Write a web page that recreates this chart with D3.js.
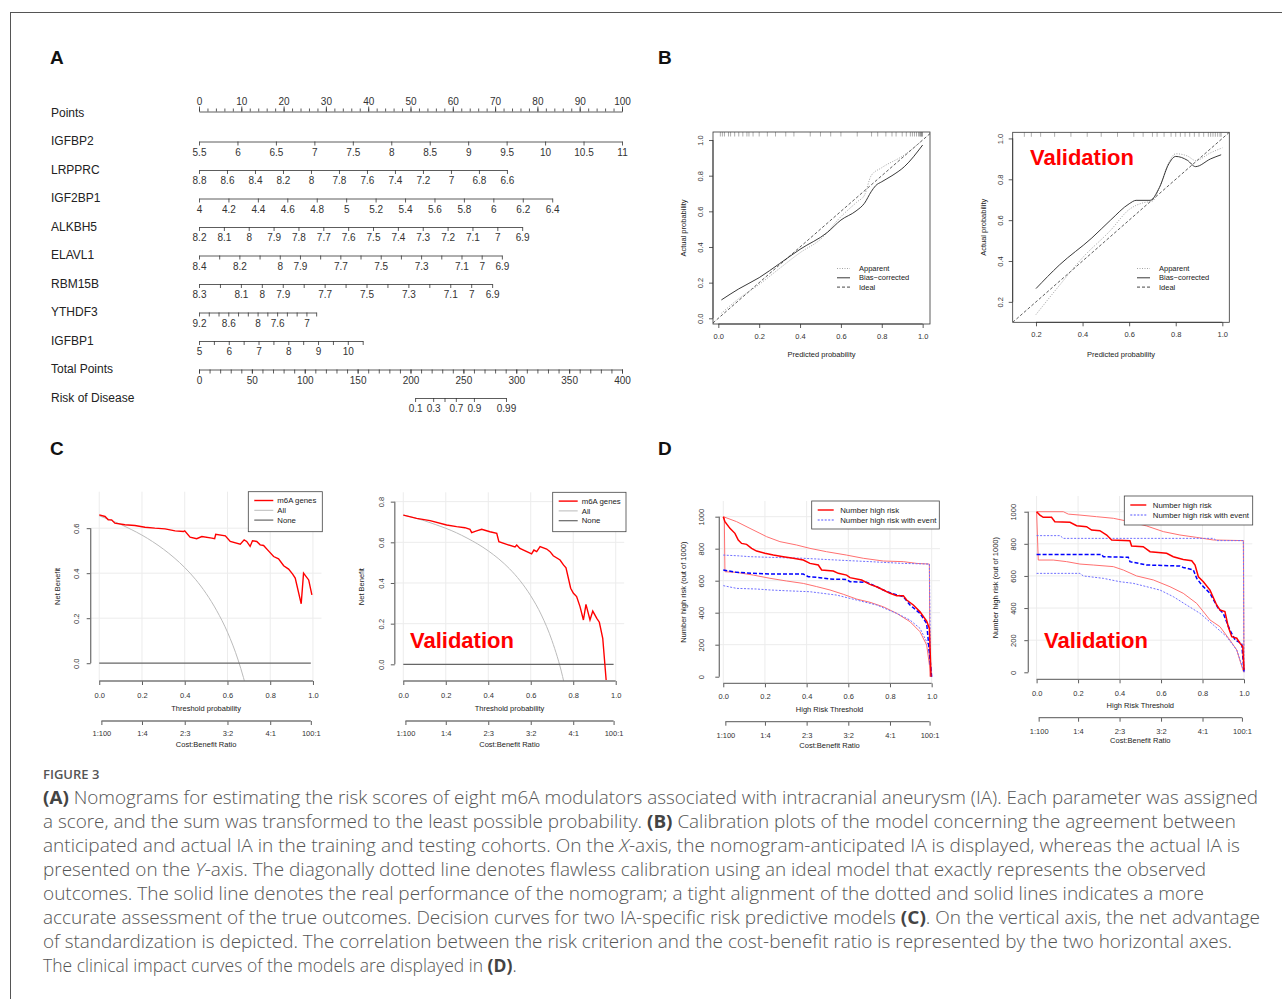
<!DOCTYPE html>
<html>
<head>
<meta charset="utf-8">
<script src="https://cdn.jsdelivr.net/npm/d3@7"></script>
<style>
body{margin:0;background:#fff}
svg{display:block}
</style>
</head>
<body>
<script>
"use strict";
// ---------- A: nomogram ----------
const nomoNames = ["IGFBP2", "LRPPRC", "IGF2BP1", "ALKBH5", "ELAVL1", "RBM15B", "YTHDF3", "IGFBP1"];
const nomoStart = [5.5, 8.8, 4, 8.2, 8.4, 8.3, 9.2, 5];
const nomoEnd = [11, 6.6, 6.4, 6.9, 6.9, 6.9, 6.8, 10.5];
const nomoEndPts = [100, 72.8, 83.5, 76.4, 71.6, 69.3, 27.7, 38.7];
const nomoTicks = [
	[5.5, 6, 6.5, 7, 7.5, 8, 8.5, 9, 9.5, 10, 10.5, 11],
	[8.8, 8.6, 8.4, 8.2, 8, 7.8, 7.6, 7.4, 7.2, 7, 6.8, 6.6],
	[4, 4.2, 4.4, 4.6, 4.8, 5, 5.2, 5.4, 5.6, 5.8, 6, 6.2, 6.4],
	[8.2, 8.1, 8, 7.9, 7.8, 7.7, 7.6, 7.5, 7.4, 7.3, 7.2, 7.1, 7, 6.9],
	[8.4, 8.3, 8.2, 8.1, 8, 7.9, 7.8, 7.7, 7.6, 7.5, 7.4, 7.3, 7.2, 7.1, 7, 6.9],
	[8.3, 8.2, 8.1, 8, 7.9, 7.8, 7.7, 7.6, 7.5, 7.4, 7.3, 7.2, 7.1, 7, 6.9],
	[9.2, 9, 8.8, 8.6, 8.4, 8.2, 8, 7.8, 7.6, 7.4, 7.2, 7, 6.8],
	[5, 5.5, 6, 6.5, 7, 7.5, 8, 8.5, 9, 9.5, 10, 10.5]
];
const nomoLabels = [
	[5.5, 6, 6.5, 7, 7.5, 8, 8.5, 9, 9.5, 10, 10.5, 11],
	[8.8, 8.6, 8.4, 8.2, 8, 7.8, 7.6, 7.4, 7.2, 7, 6.8, 6.6],
	[4, 4.2, 4.4, 4.6, 4.8, 5, 5.2, 5.4, 5.6, 5.8, 6, 6.2, 6.4],
	[8.2, 8.1, 8, 7.9, 7.8, 7.7, 7.6, 7.5, 7.4, 7.3, 7.2, 7.1, 7, 6.9],
	[8.4, 8.2, 8, 7.9, 7.7, 7.5, 7.3, 7.1, 7, 6.9],
	[8.3, 8.1, 8, 7.9, 7.7, 7.5, 7.3, 7.1, 7, 6.9],
	[9.2, 8.6, 8, 7.6, 7],
	[5, 6, 7, 8, 9, 10]
];
const pointsTicks = [0, 10, 20, 30, 40, 50, 60, 70, 80, 90, 100];
const pointsMinor = d3.range(0, 101, 2);
const totalTicks = [0, 50, 100, 150, 200, 250, 300, 350, 400];
const totalMinor = d3.range(0, 401, 10);
const riskTicks = [0.1, 0.3, 0.5, 0.7, 0.9, 0.99];
const riskLabels = [0.1, 0.3, 0.7, 0.9, 0.99];
const riskA = -18.34, riskB = 0.079; // logit(p) = riskA + riskB * totalPoints

// ---------- B: calibration ----------
const calTrainBcX = [0.015, 0.1, 0.2, 0.3, 0.4, 0.534, 0.6, 0.674, 0.715, 0.748, 0.77, 0.8, 0.85, 0.91, 1.0];
const calTrainBcY = [0.103, 0.165, 0.228, 0.307, 0.387, 0.482, 0.551, 0.602, 0.645, 0.71, 0.744, 0.766, 0.8, 0.85, 0.972];
const calTrainApX = [0.015, 0.1, 0.2, 0.3, 0.4, 0.5, 0.6, 0.68, 0.715, 0.748, 0.8, 0.91, 1.0];
const calTrainApY = [0.028, 0.11, 0.19, 0.28, 0.368, 0.443, 0.57, 0.654, 0.69, 0.8, 0.845, 0.916, 1.0];
const calTrainRug = [0.01, 0.02, 0.03, 0.05, 0.06, 0.08, 0.1, 0.12, 0.14, 0.15, 0.17, 0.2, 0.24, 0.28, 0.33, 0.37, 0.45, 0.5, 0.55, 0.6, 0.68, 0.75, 0.78, 0.82, 0.85, 0.87, 0.9, 0.92, 0.94, 0.95, 0.96, 0.97, 0.98, 0.985, 0.99, 0.992, 0.995, 0.997, 0.999];
const calValidBcX = [0.2, 0.3, 0.44, 0.52, 0.6, 0.63, 0.69, 0.73, 0.77, 0.8, 0.85, 0.885, 0.95, 0.995];
const calValidBcY = [0.265, 0.38, 0.513, 0.6, 0.68, 0.697, 0.697, 0.76, 0.875, 0.912, 0.893, 0.862, 0.9, 0.92];
const calValidApX = [0.2, 0.3, 0.4, 0.52, 0.6, 0.66, 0.7, 0.73, 0.77, 0.8, 0.85, 0.885, 0.95, 1.0];
const calValidApY = [0.138, 0.28, 0.416, 0.55, 0.652, 0.685, 0.693, 0.758, 0.881, 0.925, 0.914, 0.892, 0.93, 0.954];
const calValidRug = [0.15, 0.18, 0.22, 0.28, 0.35, 0.42, 0.48, 0.55, 0.62, 0.66, 0.7, 0.72, 0.75, 0.78, 0.8, 0.82, 0.84, 0.86, 0.88, 0.9, 0.92, 0.94, 0.95, 0.96, 0.97, 0.98, 0.99, 0.995];
const calTicks = [0, 0.2, 0.4, 0.6, 0.8, 1.0];
const calValidTicks = [0.2, 0.4, 0.6, 0.8, 1.0];
const calLegend = ["Apparent", "Bias\u2212corrected", "Ideal"];

// ---------- C: decision curves ----------
const dcaTrainX = [0, 0.027, 0.042, 0.058, 0.073, 0.12, 0.167, 0.214, 0.26, 0.308, 0.355, 0.394, 0.4, 0.425, 0.456, 0.48, 0.527, 0.54, 0.545, 0.59, 0.613, 0.66, 0.678, 0.69, 0.706, 0.717, 0.737, 0.753, 0.769, 0.792, 0.816, 0.839, 0.863, 0.886, 0.905, 0.917, 0.945, 0.956, 0.98, 0.995];
const dcaTrainY = [0.659, 0.652, 0.637, 0.637, 0.622, 0.615, 0.612, 0.604, 0.6, 0.597, 0.588, 0.585, 0.588, 0.56, 0.553, 0.563, 0.556, 0.553, 0.573, 0.566, 0.541, 0.529, 0.548, 0.541, 0.519, 0.544, 0.541, 0.526, 0.523, 0.499, 0.474, 0.464, 0.433, 0.418, 0.396, 0.378, 0.264, 0.4, 0.37, 0.304];
const dcaTrainAllX = [0, 0.05, 0.1, 0.15, 0.2, 0.25, 0.3, 0.35, 0.4, 0.45, 0.5, 0.55, 0.6, 0.65, 0.7];
const dcaTrainAllY = [0.655, 0.637, 0.617, 0.594, 0.569, 0.54, 0.507, 0.469, 0.425, 0.373, 0.31, 0.233, 0.138, 0.014, -0.15];
const dcaValidX = [0, 0.063, 0.126, 0.204, 0.251, 0.29, 0.314, 0.322, 0.345, 0.369, 0.408, 0.44, 0.45, 0.487, 0.526, 0.534, 0.549, 0.604, 0.615, 0.628, 0.644, 0.675, 0.691, 0.706, 0.738, 0.754, 0.766, 0.788, 0.801, 0.816, 0.832, 0.848, 0.86, 0.879, 0.892, 0.911, 0.923, 0.939, 0.955];
const dcaValidY = [0.734, 0.718, 0.707, 0.685, 0.677, 0.672, 0.664, 0.648, 0.656, 0.664, 0.652, 0.644, 0.603, 0.59, 0.577, 0.587, 0.57, 0.543, 0.562, 0.554, 0.579, 0.567, 0.554, 0.534, 0.513, 0.489, 0.475, 0.374, 0.349, 0.333, 0.284, 0.218, 0.295, 0.218, 0.262, 0.226, 0.207, 0.128, -0.077];
const dcaValidAllX = [0, 0.05, 0.1, 0.15, 0.2, 0.25, 0.3, 0.35, 0.4, 0.45, 0.5, 0.55, 0.6, 0.65, 0.7, 0.75, 0.8];
const dcaValidAllY = [0.735, 0.721, 0.706, 0.688, 0.669, 0.647, 0.621, 0.592, 0.558, 0.518, 0.47, 0.411, 0.337, 0.243, 0.117, -0.06, -0.325];
const dcaLegend = ["m6A genes", "All", "None"];
const cbThresholds = [0.01, 0.2, 0.4, 0.6, 0.8, 0.99];
const cbLabels = ["1:100", "1:4", "2:3", "3:2", "4:1", "100:1"];
const thrTicks = [0, 0.2, 0.4, 0.6, 0.8, 1.0];

// ---------- D: clinical impact ----------
const ciTrainRedX = [0, 0.008, 0.032, 0.056, 0.072, 0.088, 0.112, 0.136, 0.16, 0.2, 0.24, 0.288, 0.336, 0.384, 0.416, 0.456, 0.472, 0.528, 0.552, 0.592, 0.608, 0.664, 0.704, 0.736, 0.768, 0.8, 0.832, 0.864, 0.88, 0.912, 0.944, 0.976, 0.989, 0.997];
const ciTrainRedY = [1000, 969, 927, 896, 854, 833, 827, 802, 785, 771, 760, 750, 740, 729, 708, 698, 667, 660, 646, 635, 619, 604, 577, 562, 542, 521, 506, 506, 479, 448, 406, 348, 302, 0];
const ciTrainRedHiX = [0, 0.064, 0.128, 0.176, 0.208, 0.272, 0.352, 0.416, 0.496, 0.592, 0.672, 0.768, 0.864, 0.928, 0.989, 0.992];
const ciTrainRedHiY = [1000, 969, 927, 896, 875, 844, 823, 802, 781, 760, 740, 723, 719, 708, 704, 0];
const ciTrainRedLoX = [0.005, 0.008, 0.064, 0.144, 0.224, 0.304, 0.384, 0.448, 0.512, 0.576, 0.64, 0.704, 0.768, 0.832, 0.896, 0.944, 0.976, 0.997];
const ciTrainRedLoY = [1000, 656, 652, 635, 615, 598, 583, 563, 542, 515, 485, 465, 437, 396, 344, 281, 198, 0];
const ciTrainBlueX = [0, 0.064, 0.144, 0.224, 0.384, 0.408, 0.464, 0.512, 0.592, 0.608, 0.688, 0.736, 0.768, 0.808, 0.864, 0.896, 0.944, 0.976, 1.0];
const ciTrainBlueY = [667, 652, 646, 642, 642, 625, 619, 610, 608, 594, 590, 562, 542, 521, 500, 448, 396, 333, 0];
const ciTrainBlueHiX = [0, 0.064, 0.128, 0.224, 0.384, 0.544, 0.704, 0.864, 0.989, 0.995];
const ciTrainBlueHiY = [760, 756, 750, 746, 740, 729, 719, 708, 704, 0];
const ciTrainBlueLoX = [0, 0.064, 0.16, 0.224, 0.304, 0.416, 0.544, 0.64, 0.736, 0.832, 0.896, 0.944, 0.984, 1.0];
const ciTrainBlueLoY = [569, 552, 548, 542, 537, 531, 510, 479, 448, 396, 354, 302, 198, 0];
const ciValidRedX = [0, 0.016, 0.032, 0.072, 0.088, 0.161, 0.193, 0.241, 0.265, 0.305, 0.338, 0.362, 0.45, 0.458, 0.514, 0.547, 0.627, 0.659, 0.707, 0.748, 0.764, 0.78, 0.804, 0.836, 0.868, 0.884, 0.908, 0.924, 0.941, 0.965, 0.981, 0.994, 1.0];
const ciValidRedY = [1000, 979, 965, 965, 938, 934, 913, 907, 886, 882, 855, 824, 819, 786, 782, 751, 741, 720, 703, 695, 668, 595, 564, 512, 419, 388, 378, 284, 222, 212, 180, 160, 15];
const ciValidRedHiX = [0, 0.129, 0.153, 0.209, 0.289, 0.37, 0.45, 0.531, 0.611, 0.691, 0.772, 0.852, 0.997, 1.0];
const ciValidRedHiY = [1000, 1000, 985, 979, 969, 959, 938, 911, 876, 855, 840, 824, 820, 0];
const ciValidRedLoX = [0, 0.008, 0.08, 0.145, 0.209, 0.273, 0.37, 0.418, 0.482, 0.563, 0.643, 0.707, 0.772, 0.836, 0.884, 0.932, 0.965, 0.997];
const ciValidRedLoY = [1000, 699, 699, 689, 674, 668, 658, 637, 600, 575, 533, 492, 429, 326, 284, 201, 139, 4];
const ciValidBlueX = [0, 0.313, 0.322, 0.442, 0.45, 0.531, 0.691, 0.707, 0.756, 0.772, 0.796, 0.836, 0.876, 0.9, 0.932, 0.957, 0.989, 1.0];
const ciValidBlueY = [734, 734, 720, 716, 689, 668, 662, 653, 637, 585, 544, 492, 398, 367, 263, 201, 180, 4];
const ciValidBlueHiX = [0, 0.113, 0.129, 0.852, 0.868, 0.997, 1.0];
const ciValidBlueHiY = [851, 851, 834, 834, 820, 820, 0];
const ciValidBlueLoX = [0, 0.209, 0.225, 0.322, 0.402, 0.466, 0.531, 0.595, 0.659, 0.723, 0.788, 0.852, 0.916, 0.965, 0.997];
const ciValidBlueLoY = [616, 616, 600, 585, 564, 554, 533, 512, 471, 419, 367, 295, 222, 139, 15];
const ciTicks = [0, 200, 400, 600, 800, 1000];
const ciLegend = ["Number high risk", "Number high risk with event"];

// ---------- caption ----------
const captionLines = [
	[["(A)", "b"], [" Nomograms for estimating the risk scores of eight m6A modulators associated with intracranial aneurysm (IA). Each parameter was assigned"]],
	[["a score, and the sum was transformed to the least possible probability. "], ["(B)", "b"], [" Calibration plots of the model concerning the agreement between"]],
	[["anticipated and actual IA in the training and testing cohorts. On the "], ["X", "i"], ["-axis, the nomogram-anticipated IA is displayed, whereas the actual IA is"]],
	[["presented on the "], ["Y", "i"], ["-axis. The diagonally dotted line denotes flawless calibration using an ideal model that exactly represents the observed"]],
	[["outcomes. The solid line denotes the real performance of the nomogram; a tight alignment of the dotted and solid lines indicates a more"]],
	[["accurate assessment of the true outcomes. Decision curves for two IA-specific risk predictive models "], ["(C)", "b"], [". On the vertical axis, the net advantage"]],
	[["of standardization is depicted. The correlation between the risk criterion and the cost-benefit ratio is represented by the two horizontal axes."]],
	[["The clinical impact curves of the models are displayed in "], ["(D)", "b"], ["."]]
];
const captionWidths = [1215, 1193, 1197, 1163, 1161, 1217, 1189, null];

const FONT = '"Liberation Sans", Arial, Helvetica, sans-serif';
const svg = d3.select("body").append("svg").attr("width", 1282).attr("height", 999).attr("font-family", FONT);

// frame
svg.append("line").attr("x1", 10).attr("x2", 1282).attr("y1", 12.5).attr("y2", 12.5).attr("stroke", "#555");
svg.append("line").attr("x1", 10.5).attr("x2", 10.5).attr("y1", 12).attr("y2", 999).attr("stroke", "#555");

// panel letters
[["A", 50, 64], ["B", 658, 64], ["C", 50, 455], ["D", 658, 455]].forEach(([t, x, y]) => {
	svg.append("text").attr("x", x).attr("y", y).attr("font-size", 19).attr("font-weight", "bold").attr("fill", "#111").text(t);
});

function styleAxis(g, size, col) {
	g.attr("font-family", FONT).attr("font-size", size);
	g.selectAll("text").attr("fill", col || "#333");
	g.selectAll("line").attr("stroke", col || "#333").attr("stroke-width", 0.8);
	g.selectAll(".domain").attr("stroke", col || "#333").attr("stroke-width", 0.8);
}

// ---------- A ----------
const ptsX = d3.scaleLinear().domain([0, 100]).range([199, 622]);
const totX = d3.scaleLinear().domain([0, 400]).range([199, 622]);
const rowY = d3.scaleLinear().domain([0, 10]).range([112, 397]);
const rowNames = ["Points"].concat(nomoNames, ["Total Points", "Risk of Disease"]);
rowNames.forEach((n, i) => {
	svg.append("text").attr("x", 51).attr("y", rowY(i) + 4.5).attr("font-size", 12).attr("fill", "#222").text(n);
});
{
	const g1 = svg.append("g").attr("transform", `translate(0,${rowY(0) - 0.5})`)
		.call(d3.axisTop(ptsX).tickValues(pointsMinor).tickSize(3).tickSizeOuter(0).tickFormat(""));
	styleAxis(g1, 10);
	const g2 = svg.append("g").attr("transform", `translate(0,${rowY(0) - 0.5})`)
		.call(d3.axisTop(ptsX).tickValues(pointsTicks).tickSize(5).tickSizeOuter(0).tickPadding(2));
	g2.select(".domain").remove();
	styleAxis(g2, 10);
}
nomoNames.forEach((name, i) => {
	const sc = d3.scaleLinear().domain([nomoStart[i], nomoEnd[i]]).range([ptsX(0), ptsX(nomoEndPts[i])]);
	const g = svg.append("g").attr("transform", `translate(0,${rowY(i + 1) + 1})`)
		.call(d3.axisBottom(sc).tickValues(nomoTicks[i]).tickSize(4).tickSizeOuter(0).tickPadding(3)
			.tickFormat(v => nomoLabels[i].includes(v) ? d3.format("~g")(v) : ""));
	styleAxis(g, 10);
});
{
	const g1 = svg.append("g").attr("transform", `translate(0,${rowY(9) + 1})`)
		.call(d3.axisBottom(totX).tickValues(totalMinor).tickSize(4).tickSizeOuter(0).tickFormat(""));
	styleAxis(g1, 10);
	const g2 = svg.append("g").attr("transform", `translate(0,${rowY(9) + 1})`)
		.call(d3.axisBottom(totX).tickValues(totalTicks).tickSize(4).tickSizeOuter(0).tickPadding(3));
	g2.select(".domain").remove();
	styleAxis(g2, 10);
	const logit = p => Math.log(p / (1 - p));
	const toPts = p => (logit(p) - riskA) / riskB;
	const lo = riskTicks[0], hi = riskTicks[riskTicks.length - 1];
	const rsc = d3.scaleLinear().domain([logit(lo), logit(hi)]).range([totX(toPts(lo)), totX(toPts(hi))]);
	const g3 = svg.append("g").attr("transform", `translate(0,${rowY(10) + 1})`)
		.call(d3.axisBottom(rsc).tickValues(riskTicks.map(logit)).tickSize(4).tickSizeOuter(0).tickPadding(3)
			.tickFormat((v, i) => riskLabels.includes(riskTicks[i]) ? String(riskTicks[i]) : ""));
	styleAxis(g3, 10);
}

// ---------- shared R-like axis ----------
function rAxis(parent, side, scale, values, at, pad, fmt, size) {
	const ax = (side === "bottom" ? d3.axisBottom(scale) : d3.axisLeft(scale))
		.tickValues(values).tickSize(4).tickSizeOuter(0).tickPadding(pad).tickFormat(fmt);
	const g = parent.append("g")
		.attr("transform", side === "bottom" ? `translate(0,${at})` : `translate(${at},0)`).call(ax);
	g.select(".domain").remove();
	const a = scale(values[0]), b = scale(values[values.length - 1]);
	if (side === "bottom") g.append("line").attr("class", "domain").attr("x1", a).attr("x2", b);
	else g.append("line").attr("class", "domain").attr("y1", a).attr("y2", b);
	if (side === "left") {
		g.selectAll(".tick text").attr("transform", "rotate(-90)").attr("x", 0).attr("y", -pad).attr("dy", 0).attr("text-anchor", "middle");
	}
	styleAxis(g, size || 7.5);
	return g;
}
function title(parent, x, y, text, rot) {
	parent.append("text").attr("x", rot ? 0 : x).attr("y", rot ? 0 : y)
		.attr("transform", rot ? `translate(${x},${y}) rotate(-90)` : null)
		.attr("text-anchor", "middle").attr("font-size", 7.5).attr("fill", "#222").text(text);
}
function redLabel(x, y) {
	svg.append("text").attr("x", x).attr("y", y).attr("font-size", 22).attr("font-weight", "bold").attr("fill", "#f00").text("Validation");
}
let clipId = 0;
function clipRect(x0, x1, y0, y1) {
	const id = "clip" + (clipId++);
	svg.append("clipPath").attr("id", id).append("rect").attr("x", x0).attr("y", y0).attr("width", x1 - x0).attr("height", y1 - y0);
	return `url(#${id})`;
}

// ---------- B ----------
function calPlot(o) {
	const x = d3.scaleLinear().domain(o.xd).range(o.xr);
	const y = d3.scaleLinear().domain(o.yd).range(o.yr);
	const g = svg.append("g");
	const clip = clipRect(o.xr[0], o.xr[1], o.yr[1], o.yr[0]);
	const line = d3.line().x(d => x(d[0])).y(d => y(d[1])).curve(d3.curveMonotoneX);
	const pg = g.append("g").attr("clip-path", clip);
	pg.append("line").attr("x1", x(o.xd[0])).attr("y1", y(o.xd[0])).attr("x2", x(o.xd[1])).attr("y2", y(o.xd[1]))
		.attr("stroke", "#333").attr("stroke-width", 0.8).attr("stroke-dasharray", "3,2");
	pg.append("path").datum(d3.zip(o.apX, o.apY)).attr("d", line).attr("fill", "none")
		.attr("stroke", "#999").attr("stroke-width", 0.9).attr("stroke-dasharray", "1,1.5");
	pg.append("path").datum(d3.zip(o.bcX, o.bcY)).attr("d", line).attr("fill", "none")
		.attr("stroke", "#222").attr("stroke-width", 0.9);
	pg.selectAll(".rug").data(o.rug).enter().append("line")
		.attr("x1", d => x(d)).attr("x2", d => x(d)).attr("y1", o.yr[1]).attr("y2", o.yr[1] + 4.5)
		.attr("stroke", "#777").attr("stroke-width", 0.6);
	g.append("rect").attr("x", o.xr[0]).attr("y", o.yr[1]).attr("width", o.xr[1] - o.xr[0]).attr("height", o.yr[0] - o.yr[1])
		.attr("fill", "none").attr("stroke", "#333").attr("stroke-width", 0.8);
	rAxis(g, "bottom", x, o.ticks, o.yr[0], o.xpad, d3.format(".1f"));
	rAxis(g, "left", y, o.ticks, o.xr[0], o.ypad, d3.format(".1f"));
	title(g, (o.xr[0] + o.xr[1]) / 2, o.xtY, "Predicted probability");
	title(g, o.ytX, (o.yr[0] + o.yr[1]) / 2, "Actual probability", true);
	const dashes = ["1,1.5", null, "3,2"], cols = ["#999", "#222", "#333"];
	calLegend.forEach((t, i) => {
		const ly = o.legY + i * 9.3;
		g.append("line").attr("x1", o.legX).attr("x2", o.legX + 13).attr("y1", ly).attr("y2", ly)
			.attr("stroke", cols[i]).attr("stroke-width", 0.9).attr("stroke-dasharray", dashes[i]);
		g.append("text").attr("x", o.legX + 22).attr("y", ly + 2.6).attr("font-size", 7.5).attr("fill", "#222").text(t);
	});
}
calPlot({xd: [-0.026, 1.036], xr: [713, 930], yd: [-0.032, 1.045], yr: [324, 132], ticks: calTicks,
	apX: calTrainApX, apY: calTrainApY, bcX: calTrainBcX, bcY: calTrainBcY, rug: calTrainRug,
	xpad: 5.5, ypad: 10.3, xtY: 356.5, ytX: 685.5, legX: 837, legY: 268.5});
calPlot({xd: [0.1, 1.03], xr: [1012.7, 1229.3], yd: [0.1, 1.03], yr: [322.3, 132.3], ticks: calValidTicks,
	apX: calValidApX, apY: calValidApY, bcX: calValidBcX, bcY: calValidBcY, rug: calValidRug,
	xpad: 5.5, ypad: 10, xtY: 356.5, ytX: 985.5, legX: 1137, legY: 268.5});
redLabel(1030, 164.5);

// ---------- C ----------
function legendBox(g, x0, x1, y0, y1, labels, styles, lineX, textX, rowH) {
	g.append("rect").attr("x", x0).attr("y", y0).attr("width", x1 - x0).attr("height", y1 - y0)
		.attr("fill", "#fff").attr("stroke", "#444").attr("stroke-width", 0.8);
	labels.forEach((t, i) => {
		const ly = y0 + rowH * (i + 1) - 1;
		g.append("line").attr("x1", lineX[0]).attr("x2", lineX[1]).attr("y1", ly).attr("y2", ly)
			.attr("stroke", styles[i][0]).attr("stroke-width", styles[i][1]).attr("stroke-dasharray", styles[i][2]);
		g.append("text").attr("x", textX).attr("y", ly + 2.7).attr("font-size", 7.8).attr("fill", "#222").text(t);
	});
}
function gridLines(g, x, y, xt, yt, xr, yr) {
	g.selectAll(".gx").data(xt).enter().append("line").attr("x1", d => x(d)).attr("x2", d => x(d))
		.attr("y1", yr[0]).attr("y2", yr[1]).attr("stroke", "#ececec").attr("stroke-width", 1);
	g.selectAll(".gy").data(yt).enter().append("line").attr("y1", d => y(d)).attr("y2", d => y(d))
		.attr("x1", xr[0]).attr("x2", xr[1]).attr("stroke", "#ececec").attr("stroke-width", 1);
}
function bottomAxes(g, x, o) {
	rAxis(g, "bottom", x, thrTicks, o.axY, o.xpad, d3.format(".1f"));
	title(g, (o.xr[0] + o.xr[1]) / 2, o.xtY, o.xTitle);
	rAxis(g, "bottom", x, cbThresholds, o.cbY, o.cbpad, (d, i) => cbLabels[i]);
	title(g, (o.xr[0] + o.xr[1]) / 2, o.cbtY, "Cost:Benefit Ratio");
	g.selectAll(".domain").attr("stroke", "#777").attr("stroke-width", 1.3);
}
function dcaPlot(o) {
	const x = d3.scaleLinear().domain([-0.04, 1.04]).range(o.xr);
	const y = d3.scaleLinear().domain(o.yd).range(o.yr);
	const g = svg.append("g");
	gridLines(g, x, y, thrTicks, o.yticks.filter(v => v > 0), o.xr, o.yr);
	const pg = g.append("g").attr("clip-path", clipRect(o.xr[0], o.xr[1], o.yr[1], o.yr[0]));
	const line = d3.line().x(d => x(d[0])).y(d => y(d[1]));
	pg.append("path").datum(d3.zip(o.allX, o.allY)).attr("d", line.curve(d3.curveMonotoneX)).attr("fill", "none")
		.attr("stroke", "#bbb").attr("stroke-width", 1);
	pg.append("line").attr("x1", x(0)).attr("x2", x(0.99)).attr("y1", y(0)).attr("y2", y(0))
		.attr("stroke", "#666").attr("stroke-width", 1.2);
	pg.append("path").datum(d3.zip(o.mX, o.mY)).attr("d", line.curve(d3.curveLinear)).attr("fill", "none")
		.attr("stroke", "#f00").attr("stroke-width", 1.4);
	rAxis(g, "left", y, o.yticks, o.xr[0], o.ypad, d3.format(".1f"));
	title(g, o.ytX, (o.yr[0] + o.yr[1]) / 2, "Net Benefit", true);
	bottomAxes(g, x, Object.assign({xTitle: "Threshold probability"}, o));
	legendBox(g, o.leg[0], o.leg[1], o.leg[2], o.leg[3], dcaLegend,
		[["#f00", 1.4, null], ["#bbb", 1, null], ["#666", 1.2, null]],
		[o.leg[0] + 6, o.leg[0] + 25], o.leg[0] + 29, 9.8);
}
dcaPlot({xr: [90.7, 321.5], yd: [-0.079, 0.762], yr: [681, 491.7], yticks: [0, 0.2, 0.4, 0.6],
	mX: dcaTrainX, mY: dcaTrainY, allX: dcaTrainAllX, allY: dcaTrainAllY,
	ypad: 11.3, ytX: 60, axY: 681, xpad: 8, xtY: 710.5, cbY: 721, cbpad: 5.6, cbtY: 747,
	leg: [248.3, 322.3, 491.7, 531.7]});
dcaPlot({xr: [394.8, 624.2], yd: [-0.082, 0.846], yr: [681, 492.3], yticks: [0, 0.2, 0.4, 0.6, 0.8],
	mX: dcaValidX, mY: dcaValidY, allX: dcaValidAllX, allY: dcaValidAllY,
	ypad: 10.6, ytX: 364, axY: 681, xpad: 8, xtY: 710.5, cbY: 721, cbpad: 5.6, cbtY: 747,
	leg: [552.7, 626, 492.3, 531.7]});
redLabel(410, 648);

// ---------- D ----------
function ciPlot(o) {
	const x = d3.scaleLinear().domain(o.xd).range(o.xr);
	const y = d3.scaleLinear().domain(o.yd).range(o.yr);
	const g = svg.append("g");
	gridLines(g, x, y, thrTicks, ciTicks.filter(v => v > 0), o.xr, o.yr);
	const pg = g.append("g").attr("clip-path", clipRect(o.xr[0], o.xr[1], o.yr[1], o.yr[0]));
	const line = d3.line().x(d => x(d[0])).y(d => y(d[1]));
	const series = [
		[o.rHiX, o.rHiY, "#ff7070", 1, null],
		[o.rLoX, o.rLoY, "#ff7070", 1, null],
		[o.bHiX, o.bHiY, "#7070ff", 1, "2,1.5"],
		[o.bLoX, o.bLoY, "#7070ff", 1, "2,1.5"],
		[o.bX, o.bY, "#0000ff", 1.5, "4,2"],
		[o.rX, o.rY, "#f00", 1.5, null]
	];
	series.forEach(([xs, ys, c, w, da]) => {
		pg.append("path").datum(d3.zip(xs, ys)).attr("d", line).attr("fill", "none")
			.attr("stroke", c).attr("stroke-width", w).attr("stroke-dasharray", da);
	});
	const ya = rAxis(g, "left", y, ciTicks, o.yAxX, o.ypad, d3.format("d"));
	ya.attr("transform", `translate(${o.yAxX},0)`);
	title(g, o.ytX, (o.yr[0] + o.yr[1]) / 2, "Number high risk (out of 1000)", true);
	bottomAxes(g, x, Object.assign({xTitle: "High Risk Threshold"}, o));
	legendBox(g, o.leg[0], o.leg[1], o.leg[2], o.leg[3], ciLegend,
		[["#f00", 1.4, null], ["#5555ff", 1.2, "2,1.5"]],
		[o.leg[0] + 6, o.leg[0] + 22], o.leg[0] + 28.5, 10);
}
ciPlot({xd: [-0.02, 1.04], xr: [719.1, 940], yd: [-41.25, 1098], yr: [683.3, 501], yAxX: 719.3,
	rX: ciTrainRedX, rY: ciTrainRedY, rHiX: ciTrainRedHiX, rHiY: ciTrainRedHiY, rLoX: ciTrainRedLoX, rLoY: ciTrainRedLoY,
	bX: ciTrainBlueX, bY: ciTrainBlueY, bHiX: ciTrainBlueHiX, bHiY: ciTrainBlueHiY, bLoX: ciTrainBlueLoX, bLoY: ciTrainBlueLoY,
	ypad: 14.9, ytX: 685.5, axY: 683.3, xpad: 6.7, xtY: 712, cbY: 721.7, cbpad: 7.3, cbtY: 747.7,
	leg: [811.7, 939.3, 501, 529]});
ciPlot({xd: [-0.04, 1.04], xr: [1028.3, 1252.3], yd: [-43.6, 1097.8], yr: [679.3, 496], yAxX: 1028.3,
	rX: ciValidRedX, rY: ciValidRedY, rHiX: ciValidRedHiX, rHiY: ciValidRedHiY, rLoX: ciValidRedLoX, rLoY: ciValidRedLoY,
	bX: ciValidBlueX, bY: ciValidBlueY, bHiX: ciValidBlueHiX, bHiY: ciValidBlueHiY, bLoX: ciValidBlueLoX, bLoY: ciValidBlueLoY,
	ypad: 12.3, ytX: 997.5, axY: 679.3, xpad: 7.3, xtY: 707.7, cbY: 717.7, cbpad: 7.3, cbtY: 743.4,
	leg: [1124.3, 1252.7, 496, 525]});
redLabel(1044, 648);

// ---------- caption ----------
svg.append("text").attr("x", 43).attr("y", 779).attr("font-family", '"Open Sans", sans-serif')
	.attr("font-size", 13).attr("font-weight", 600).attr("fill", "#555").text("FIGURE 3");
captionLines.forEach((segs, i) => {
	const t = svg.append("text").attr("x", 43).attr("y", 803.5 + i * 24)
		.attr("font-family", '"Open Sans", sans-serif').attr("font-size", 17.5).attr("font-weight", 300).attr("fill", "#555");
	if (captionWidths[i]) t.attr("textLength", captionWidths[i]).attr("lengthAdjust", "spacingAndGlyphs");
	segs.forEach(([s, k]) => {
		t.append("tspan").text(s)
			.attr("font-weight", k === "b" ? 700 : null)
			.attr("fill", k === "b" ? "#444" : null)
			.attr("font-style", k === "i" ? "italic" : null);
	});
});
</script>
</body>
</html>
